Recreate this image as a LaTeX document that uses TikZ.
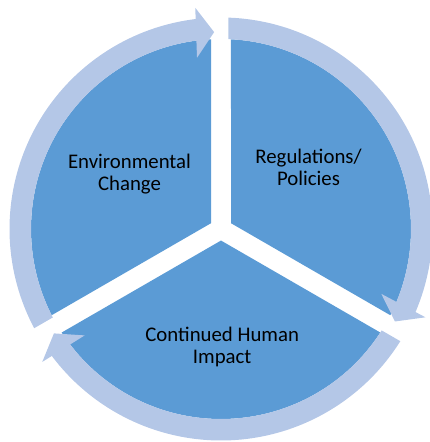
\documentclass[tikz,border=0pt]{standalone}
\usepackage{fontspec}
\setmainfont{Carlito}
\definecolor{sectorblue}{HTML}{5B9BD5}
\definecolor{ringblue}{HTML}{B4C7E7}
\begin{document}
\begin{tikzpicture}[x=1pt,y=1pt,
  sector/.style={fill=sectorblue},
  ringpart/.style={fill=ringblue},
  lbl/.style={anchor=base, inner sep=0pt, text=black, font=\fontsize{20.8}{22}\selectfont}]
\useasboundingbox (0,0) rectangle (430,442);
\coordinate (O) at (221,213);
\begin{scope}[shift={(O)}]
  % three pie sectors separated by white gaps
  \fill[sector] (150:11.547) -- (93.017:190) arc[start angle=93.017, end angle=206.983, radius=190] -- cycle;
  \fill[sector] (30:11.547) -- (-26.983:190) arc[start angle=-26.983, end angle=86.983, radius=190] -- cycle;
  \fill[sector] (270:11.547) -- (213.017:190) arc[start angle=213.017, end angle=326.983, radius=190] -- cycle;
  % circular arrows
  \foreach \g in {210,90,-30}{
    \pgfmathsetmacro\t{\g-118}
    \fill[ringpart] ({\g-2.032}:211.5) arc[start angle={\g-2.032}, end angle={\t+4.8}, radius=211.5]
      -- ({\t+4.8}:190) arc[start angle={\t+4.8}, end angle={\g-2.262}, radius=190] -- cycle;
    \fill[ringpart] (\t:197) -- ({\t+4.636}:222.73) -- ({\t+5.974}:172.94) -- cycle;
  }
\end{scope}
\node[lbl] (env) at (129.5,273.7) {\begin{tabular}[t]{@{}c@{}}Environmental\\Change\end{tabular}};
\node[lbl] (reg) at (308.5,278) {\begin{tabular}[t]{@{}c@{}}Regulations/\\Policies\end{tabular}};
\node[lbl] (imp) at (222.2,100.3) {\begin{tabular}[t]{@{}c@{}}Continued Human\\Impact\end{tabular}};
\end{tikzpicture}
\end{document}
